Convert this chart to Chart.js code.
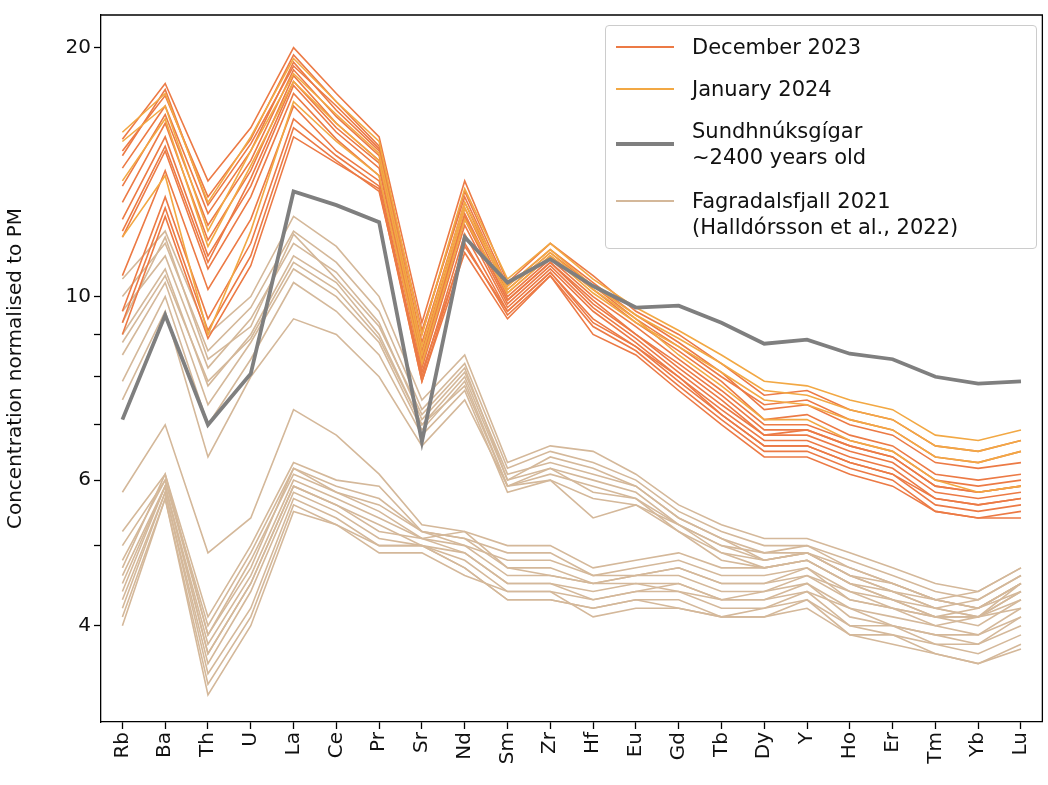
<!DOCTYPE html>
<html>
<head>
<meta charset="utf-8">
<script src="https://cdn.jsdelivr.net/npm/chart.js@4"></script>
<style>
  body { margin: 0; background: #fff; font-family: "DejaVu Sans", sans-serif; }
  #wrap { position: relative; width: 1048px; height: 785px; }
  #legend { position: absolute; left: 605px; top: 25px; width: 432px; height: 224px; border: 1px solid #ccc; border-radius: 4px; background: rgba(255,255,255,0.85); font-size: 21px; color: #111; box-sizing: border-box; }
  .it { position: absolute; left: 10px; display: flex; align-items: flex-start; }
  .sw { width: 58px; margin-right: 18px; margin-top: 12px; }
  .it span { line-height: 26px; }
</style>
</head>
<body>
<div id="wrap">
  <canvas id="c" width="1048" height="785"></canvas>
  <div id="legend">
    <div class="it" style="top:8px"><div class="sw" style="border-top:2px solid #ec7a45"></div><span>December 2023</span></div>
    <div class="it" style="top:50px"><div class="sw" style="border-top:2px solid #f2a844"></div><span>January 2024</span></div>
    <div class="it" style="top:92px"><div class="sw" style="border-top:4px solid #7f7f7f;margin-top:24px"></div><span>Sundhnúksgígar<br>~2400 years old</span></div>
    <div class="it" style="top:162px"><div class="sw" style="border-top:2px solid #d4b89a;margin-top:12px"></div><span>Fagradalsfjall 2021<br>(Halldórsson et al., 2022)</span></div>
  </div>
</div>
<script>
// --- DATOS ---
const elementos = ['Rb','Ba','Th','U','La','Ce','Pr','Sr','Nd','Sm','Zr','Hf','Eu','Gd','Tb','Dy','Y','Ho','Er','Tm','Yb','Lu'];
const ticksY = [4, 6, 10, 20];
const ticksMenores = [5, 7, 8, 9];

const sundhnuksgigar = [7.1, 9.5, 7.0, 8.07, 13.4, 12.9, 12.3, 6.68, 11.8, 10.4, 11.1, 10.3, 9.7, 9.75, 9.3, 8.77, 8.87, 8.53, 8.4, 8.0, 7.85, 7.9];

const diciembre2023 = [
  [15.5, 18.1, 13.8, 16.0, 20.0, 17.6, 15.6, 9.3, 13.8, 10.4, 11.6, 10.6, 9.6, 9.0, 8.3, 7.6, 7.7, 7.3, 7.1, 6.6, 6.5, 6.7],
  [15.0, 17.5, 13.2, 15.5, 19.6, 17.2, 15.2, 9.0, 13.4, 10.3, 11.4, 10.4, 9.5, 8.8, 8.1, 7.3, 7.4, 7.0, 6.8, 6.3, 6.2, 6.3],
  [14.3, 17.0, 12.6, 15.0, 19.2, 16.8, 15.0, 8.8, 13.0, 10.1, 11.2, 10.2, 9.3, 8.6, 7.9, 7.1, 7.2, 6.8, 6.6, 6.1, 6.0, 6.1],
  [13.6, 16.6, 12.2, 14.6, 18.8, 16.5, 14.8, 8.6, 12.8, 10.0, 11.1, 10.0, 9.2, 8.4, 7.7, 7.0, 7.0, 6.7, 6.5, 6.0, 5.9, 6.0],
  [13.0, 16.2, 11.7, 14.2, 18.5, 16.2, 14.6, 8.5, 12.6, 9.9, 11.0, 9.9, 9.0, 8.3, 7.6, 6.9, 6.9, 6.6, 6.4, 5.9, 5.8, 5.9],
  [12.4, 15.6, 11.2, 13.6, 18.0, 15.8, 14.3, 8.3, 12.4, 9.8, 10.9, 9.7, 8.9, 8.1, 7.4, 6.8, 6.8, 6.5, 6.3, 5.8, 5.7, 5.8],
  [11.8, 15.0, 10.8, 13.2, 17.6, 15.5, 14.0, 8.2, 12.2, 9.7, 10.8, 9.6, 8.8, 8.0, 7.3, 6.7, 6.7, 6.4, 6.2, 5.7, 5.6, 5.7],
  [10.6, 14.2, 10.2, 12.4, 17.0, 15.0, 13.8, 8.0, 11.9, 9.6, 10.7, 9.4, 8.7, 7.9, 7.2, 6.6, 6.6, 6.3, 6.1, 5.6, 5.5, 5.6],
  [9.6, 13.2, 9.4, 11.6, 16.4, 14.8, 13.6, 7.9, 11.6, 9.5, 10.6, 9.2, 8.6, 7.8, 7.1, 6.5, 6.5, 6.2, 6.0, 5.5, 5.4, 5.5],
  [9.0, 12.5, 8.9, 10.9, 15.6, 14.5, 13.5, 7.9, 11.3, 9.4, 10.6, 9.0, 8.5, 7.7, 7.0, 6.4, 6.4, 6.1, 5.9, 5.5, 5.4, 5.4],
  [14.8, 17.8, 12.9, 15.3, 19.0, 17.0, 15.1, 9.1, 13.2, 10.2, 11.3, 10.3, 9.4, 8.7, 8.0, 7.4, 7.5, 7.1, 6.9, 6.4, 6.3, 6.5],
  [12.0, 15.2, 11.0, 13.9, 18.2, 16.0, 14.5, 8.4, 12.5, 9.9, 11.0, 9.8, 9.0, 8.2, 7.5, 6.8, 6.9, 6.6, 6.4, 5.9, 5.8, 5.9],
  [9.3, 12.8, 9.1, 11.2, 16.0, 14.6, 13.4, 8.1, 11.5, 9.6, 10.7, 9.3, 8.7, 8.0, 7.2, 6.6, 6.6, 6.3, 6.1, 5.7, 5.6, 5.7]
];

const enero2024 = [
  [15.8, 17.6, 13.0, 15.6, 19.4, 17.2, 15.4, 9.0, 13.5, 10.5, 11.6, 10.5, 9.7, 9.1, 8.5, 7.9, 7.8, 7.5, 7.3, 6.8, 6.7, 6.9],
  [15.4, 17.0, 12.0, 15.0, 18.6, 16.6, 14.9, 8.7, 13.0, 10.3, 11.4, 10.3, 9.5, 8.9, 8.3, 7.7, 7.6, 7.3, 7.1, 6.6, 6.5, 6.7],
  [11.8, 14.0, 9.0, 12.0, 17.2, 15.4, 14.0, 8.3, 12.4, 10.1, 11.2, 10.1, 9.3, 8.7, 8.1, 7.5, 7.4, 7.1, 6.9, 6.4, 6.3, 6.5],
  [13.8, 16.4, 11.5, 14.4, 18.2, 16.2, 14.6, 8.5, 12.8, 10.2, 11.3, 10.2, 9.4, 8.5, 7.8, 7.1, 7.1, 6.7, 6.5, 6.0, 5.8, 5.9]
];

const fagradalsfjall = [
  [10.5, 12.0, 9.0, 10.0, 12.5, 11.5, 10.0, 7.5, 8.5, 6.3, 6.6, 6.5, 6.1, 5.6, 5.3, 5.1, 5.1, 4.9, 4.7, 4.5, 4.4, 4.7],
  [10.0, 11.6, 8.6, 9.7, 12.0, 11.0, 9.6, 7.3, 8.3, 6.2, 6.5, 6.3, 6.0, 5.5, 5.2, 5.0, 5.0, 4.8, 4.6, 4.4, 4.3, 4.6],
  [9.6, 11.2, 8.2, 9.4, 11.6, 10.7, 9.3, 7.1, 8.1, 6.1, 6.3, 6.1, 5.9, 5.4, 5.1, 4.9, 4.9, 4.7, 4.5, 4.3, 4.2, 4.5],
  [9.0, 10.8, 7.8, 9.0, 11.2, 10.4, 9.0, 7.0, 8.0, 6.0, 6.2, 6.0, 5.8, 5.3, 5.0, 4.8, 4.9, 4.6, 4.4, 4.2, 4.1, 4.4],
  [8.5, 10.4, 7.4, 8.8, 10.8, 10.0, 8.8, 6.9, 7.9, 5.9, 6.1, 5.9, 5.7, 5.2, 4.9, 4.7, 4.8, 4.5, 4.3, 4.1, 4.0, 4.3],
  [7.9, 10.0, 7.0, 8.4, 10.4, 9.6, 8.5, 6.8, 7.7, 5.8, 6.0, 5.7, 5.6, 5.2, 4.8, 4.7, 4.8, 4.5, 4.3, 4.1, 4.1, 4.2],
  [7.5, 9.6, 6.4, 8.0, 9.4, 9.0, 8.0, 6.6, 7.5, 5.9, 6.0, 5.4, 5.6, 5.3, 5.0, 4.9, 5.0, 4.7, 4.5, 4.3, 4.2, 4.4],
  [9.3, 11.8, 8.4, 9.2, 11.9, 10.5, 9.2, 7.2, 8.2, 6.0, 6.4, 6.2, 5.9, 5.4, 5.1, 4.8, 4.9, 4.6, 4.5, 4.3, 4.2, 4.5],
  [8.8, 10.6, 7.9, 8.9, 11.0, 10.2, 8.9, 7.0, 7.8, 5.9, 6.2, 5.8, 5.7, 5.3, 4.9, 4.8, 4.9, 4.6, 4.4, 4.2, 4.1, 4.3],
  [5.8, 7.0, 4.9, 5.4, 7.3, 6.8, 6.1, 5.3, 5.2, 5.0, 5.0, 4.7, 4.8, 4.9, 4.7, 4.7, 4.8, 4.5, 4.4, 4.3, 4.4, 4.7],
  [5.2, 6.1, 4.1, 5.0, 6.3, 6.0, 5.9, 5.2, 5.1, 4.9, 4.9, 4.6, 4.7, 4.8, 4.6, 4.6, 4.7, 4.4, 4.3, 4.2, 4.3, 4.6],
  [5.0, 6.0, 4.0, 4.9, 6.2, 5.9, 5.7, 5.2, 5.0, 4.8, 4.8, 4.6, 4.6, 4.7, 4.5, 4.5, 4.7, 4.3, 4.2, 4.1, 4.2, 4.5],
  [4.8, 6.0, 3.9, 4.8, 6.1, 5.8, 5.5, 5.1, 5.2, 4.7, 4.7, 4.5, 4.6, 4.6, 4.4, 4.4, 4.6, 4.3, 4.2, 4.0, 4.1, 4.4],
  [4.6, 5.9, 3.8, 4.6, 6.0, 5.7, 5.4, 5.1, 5.0, 4.6, 4.6, 4.5, 4.5, 4.5, 4.3, 4.4, 4.5, 4.2, 4.1, 4.0, 3.9, 4.2],
  [4.5, 5.9, 3.7, 4.5, 5.9, 5.6, 5.2, 5.1, 4.9, 4.5, 4.5, 4.4, 4.5, 4.4, 4.3, 4.3, 4.5, 4.1, 4.0, 3.9, 3.9, 4.1],
  [4.3, 5.8, 3.6, 4.4, 5.8, 5.5, 5.1, 5.0, 4.8, 4.4, 4.4, 4.3, 4.4, 4.4, 4.2, 4.2, 4.4, 4.0, 4.0, 3.8, 3.8, 4.0],
  [4.2, 5.8, 3.5, 4.2, 5.7, 5.4, 5.0, 5.0, 4.7, 4.3, 4.3, 4.2, 4.3, 4.3, 4.1, 4.2, 4.3, 4.0, 3.9, 3.8, 3.7, 3.9],
  [4.1, 5.7, 3.4, 4.1, 5.6, 5.3, 5.0, 5.0, 4.7, 4.3, 4.3, 4.2, 4.3, 4.2, 4.1, 4.1, 4.3, 3.9, 3.9, 3.7, 3.6, 3.8],
  [4.0, 5.7, 3.3, 4.0, 5.5, 5.3, 4.9, 4.9, 4.6, 4.4, 4.4, 4.1, 4.2, 4.2, 4.1, 4.1, 4.2, 3.9, 3.8, 3.7, 3.6, 3.75],
  [4.7, 6.1, 3.9, 4.7, 6.2, 5.8, 5.6, 5.2, 5.1, 4.7, 4.6, 4.5, 4.6, 4.7, 4.5, 4.5, 4.6, 4.4, 4.2, 4.1, 4.1, 4.5],
  [4.4, 5.9, 3.7, 4.5, 5.9, 5.6, 5.3, 5.0, 4.9, 4.5, 4.5, 4.3, 4.4, 4.5, 4.3, 4.3, 4.4, 4.2, 4.0, 3.9, 3.8, 4.1]
];

// --- COLORES ---
const COLOR_DIC = '#ec7a45';
const COLOR_ENE = '#f2a844';
const COLOR_SUN = '#7f7f7f';
const COLOR_FAG = '#d4b89a';

function serie(datos, color, ancho, orden) {
  return { data: datos, borderColor: color, borderWidth: ancho, pointRadius: 0, fill: false, tension: 0, order: orden };
}

const datasets = [];
datasets.push(serie(sundhnuksgigar, COLOR_SUN, 3.8, 0));
enero2024.forEach(d => datasets.push(serie(d, COLOR_ENE, 1.6, 1)));
diciembre2023.forEach(d => datasets.push(serie(d, COLOR_DIC, 1.6, 2)));
fagradalsfjall.forEach(d => datasets.push(serie(d, COLOR_FAG, 1.6, 3)));

const marcas = { display: true, drawOnChartArea: false, drawTicks: true, tickLength: 7, tickWidth: 1.3, tickColor: '#000' };

new Chart(document.getElementById('c'), {
  type: 'line',
  data: { labels: elementos, datasets: datasets },
  options: {
    responsive: false,
    animation: false,
    layout: { padding: { top: 14, right: 1, left: 0, bottom: 0 } },
    plugins: { legend: { display: false }, tooltip: { enabled: false } },
    scales: {
      x: {
        offset: true,
        grid: Object.assign({ offset: false }, marcas),
        border: { color: '#000', width: 1.3 },
        ticks: { color: '#111', font: { size: 20, family: 'DejaVu Sans' }, maxRotation: 90, minRotation: 90, autoSkip: false },
        afterFit: a => { a.height = 63; }
      },
      y: {
        type: 'logarithmic',
        min: 3.06, max: 21.9,
        grid: marcas,
        border: { color: '#000', width: 1.3 },
        title: { display: true, text: 'Concentration normalised to PM', color: '#111', font: { size: 20, family: 'DejaVu Sans' }, padding: 4 },
        ticks: {
          color: '#111', font: { size: 20, family: 'DejaVu Sans' }, autoSkip: false,
          callback: v => ticksY.includes(v) ? String(v) : ''
        },
        afterBuildTicks: a => { a.ticks = ticksY.concat(ticksMenores).sort((p, q) => p - q).map(v => ({ value: v })); },
        afterFit: a => { a.width = 101; }
      }
    }
  },
  plugins: [{
    id: 'marcoDerecho',
    afterDraw(chart) {
      const { ctx, chartArea } = chart;
      ctx.save();
      ctx.strokeStyle = '#000';
      ctx.lineWidth = 1.3;
      ctx.beginPath();
      ctx.moveTo(chartArea.left, chartArea.top);
      ctx.lineTo(chartArea.right, chartArea.top);
      ctx.lineTo(chartArea.right, chartArea.bottom);
      ctx.stroke();
      ctx.restore();
    }
  }]
});
</script>
</body>
</html>
